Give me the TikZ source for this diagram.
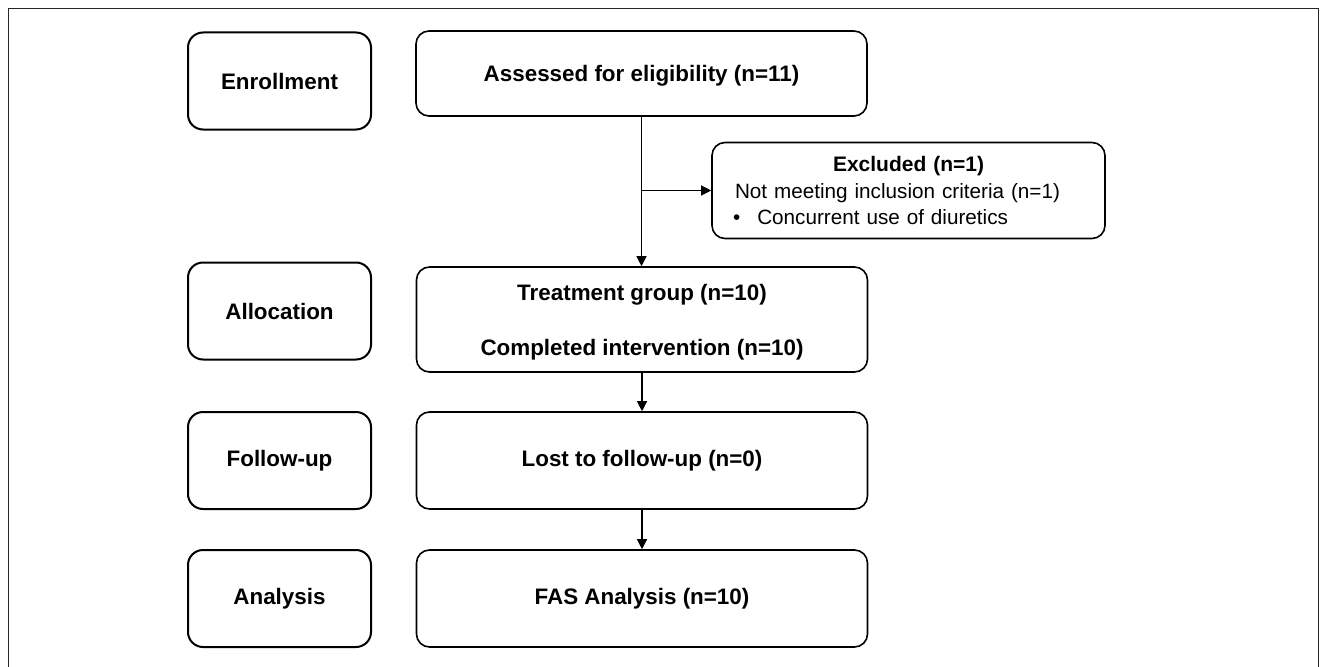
\documentclass[tikz,border=0pt]{standalone}
\usepackage{fontspec}
\setmainfont{Liberation Sans}
\usetikzlibrary{arrows.meta}
\begin{document}
\begin{tikzpicture}[x=1pt,y=-1pt,
  stage/.style={draw, line width=2pt, rounded corners=15pt, minimum width=183pt, minimum height=97pt, inner sep=0pt, font=\fontsize{22.4}{27}\selectfont\bfseries, align=center},
  mainbox/.style={draw, line width=1.6pt, rounded corners=13pt, minimum width=451pt, minimum height=97pt, inner sep=0pt, font=\fontsize{22.4}{27}\selectfont\bfseries, align=center},
  exclbox/.style={draw, line width=1.6pt, rounded corners=13pt, minimum width=393pt, minimum height=96pt, inner xsep=23pt, inner ysep=0pt, text width=347pt, font=\fontsize{20.7}{26.5}\selectfont, align=left},
  conn/.style={line width=1.2pt, -{Triangle[length=10pt,width=10pt]}}
]
\useasboundingbox (0,0) rectangle (1321,666);
\draw[line width=1.5pt, black!85] (8.5,667) -- (8.5,8.5) -- (1318.5,8.5) -- (1318.5,667);

\node[stage] (enr) at (279.5,81) {Enrollment};
\node[stage] (alloc) at (279.5,311) {Allocation};
\node[stage] (fup) at (279.5,460.5) {Follow-up};
\node[stage] (ana) at (279.5,598.5) {Analysis};

\node[mainbox, minimum height=85pt] (assess) at (641.5,73.5) {\raisebox{-2pt}[\height][\depth]{Assessed for eligibility (n=11)}};
\node[exclbox] (excl) at (908.5,190.5) {\makebox[\linewidth][c]{\fontsize{21}{26.5}\selectfont\textbf{Excluded (n=1)}}\\Not meeting inclusion criteria (n=1)\\\hspace*{-2pt}\textbullet\hspace{17pt}Concurrent use of diuretics};
\node[mainbox, minimum height=105pt] (treat) at (642,319.5) {\raisebox{-3pt}[\height][\depth]{\begin{tabular}{@{}c@{}}Treatment group (n=10)\\[28pt]Completed intervention (n=10)\end{tabular}}};
\node[mainbox] (lost) at (642,460.5) {Lost to follow-up (n=0)};
\node[mainbox] (fas) at (642,598.5) {FAS Analysis (n=10)};

\coordinate (br) at (assess.south |- excl.west);
\draw[conn] (assess.south) -- (assess.south |- treat.north);
\draw[conn] (br) -- (excl.west);
\draw[conn] (treat.south) -- (lost.north);
\draw[conn] (lost.south) -- (fas.north);
\end{tikzpicture}
\end{document}
